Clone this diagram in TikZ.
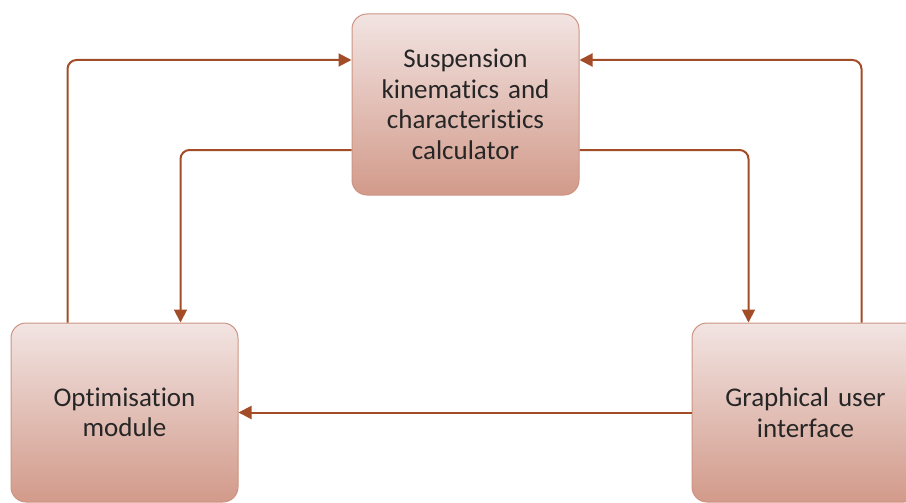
\documentclass[tikz,border=0pt]{standalone}
\usepackage{tikz}
\usepackage{xcolor}
\usepackage{fontspec}
\setmainfont{Carlito}[RawFeature={-liga;-dlig;-clig}]
\usetikzlibrary{arrows.meta}
\definecolor{linkcol}{RGB}{163,76,40}
\definecolor{boxedge}{RGB}{205,148,130}
\definecolor{boxtop}{RGB}{242,228,226}
\definecolor{boxbot}{RGB}{210,154,138}
\definecolor{txtcol}{RGB}{38,38,38}

\begin{document}
\begin{tikzpicture}[x=1pt,y=-1pt]
\tikzstyle{block}=[draw=boxedge, line width=1pt, rounded corners=15pt, top color=boxtop, bottom color=boxbot, minimum width=227pt, text width=215pt, align=center, text=txtcol, font=\fontsize{27}{30.5}\selectfont]
\tikzstyle{link}=[draw=linkcol, line width=2pt, rounded corners=9pt, -{Triangle[length=13pt,width=13pt]}]
\useasboundingbox (0,0) rectangle (906,503);
\node [block, minimum height=181pt] (calc) at (465.5,104.5) {Suspension\\kinematics and\\characteristics\\calculator};
\node [block, minimum height=179pt] (opt) at (124.5,412.5) {Optimisation\\module};
\node [block, minimum height=179pt] (gui) at (805.5,412.5) {Graphical user\\interface};
\draw [link] ([xshift=57pt]opt.north west) |- ([yshift=44.5pt]calc.west);
\draw [link] ([yshift=-45.5pt]calc.west) -| ([xshift=170pt]opt.north west);
\draw [link] ([yshift=-45.5pt]calc.east) -| ([xshift=57pt]gui.north west);
\draw [link] ([xshift=170pt]gui.north west) |- ([yshift=44.5pt]calc.east);
\draw [link] (gui.west) -- (opt.east);
\end{tikzpicture}
\end{document}
